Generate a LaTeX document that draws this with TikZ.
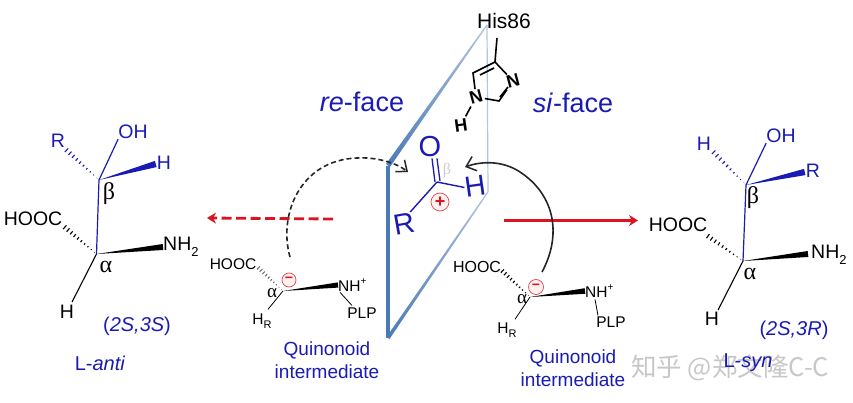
\documentclass[tikz,border=0pt]{standalone}
\usepackage{fontspec}
\setmainfont{Liberation Sans}
\newfontfamily\gkfont{Liberation Serif}
\newfontfamily\cjkwm{Noto Sans CJK SC}
\usetikzlibrary{calc,arrows.meta}
\definecolor{chemblue}{HTML}{1A1AB4}
\definecolor{planeblue}{HTML}{4A7AB6}
\definecolor{planepale}{HTML}{B4C6DC}
\definecolor{arrowred}{HTML}{DC1420}
\definecolor{signred}{HTML}{D84A50}
\newcommand{\sz}[1]{\fontsize{#1}{#1}\selectfont}
\newcommand{\lowtxt}[2]{\raisebox{-.28em}{\sz{#1}#2}}
\newcommand{\hightxt}[2]{\raisebox{.42em}{\sz{#1}#2}}
\newcommand{\wedgebond}[4][black]{\fill[#1] (#2) -- ($(#3)!#4pt!90:(#2)$) -- ($(#3)!#4pt!-90:(#2)$) -- cycle;}
\newcommand{\hashbond}[4][black]{%
  \foreach \t [evaluate=\t as \w using #4*\t] in {0.06,0.16,...,1.0}{%
    \draw[#1,line width=1.1pt] ($(#2)!\t!(#3)!\w pt!90:(#3)$) -- ($(#2)!\t!(#3)!\w pt!-90:(#3)$);}}
\tikzset{
  lab/.style={inner sep=0pt,text=black},
  big/.style={lab,font=\sz{19.5}},
  mid/.style={lab,font=\sz{15.5}},
  blab/.style={lab,text=chemblue,font=\sz{19.5}},
  captext/.style={lab,text=chemblue,font=\sz{19},align=center},
  facetext/.style={lab,text=chemblue,font=\sz{27}},
  cent/.style={lab,text=chemblue,font=\sz{29}},
  gk/.style={lab,font=\gkfont\sz{24}},
  gksmall/.style={lab,font=\gkfont\sz{19}},
  bond/.style={line width=1.1pt,black},
  bbond/.style={line width=1.2pt,chemblue},
  ringbond/.style={line width=1.6pt,black},
  imid/.style={lab,inner sep=1.5pt,font=\bfseries\sz{18}},
  chargesign/.style={circle,draw=signred,line width=.7pt,fill=red!6,inner sep=0pt,text=arrowred,font=\bfseries\sz{14}},
  redarrow/.style={draw=arrowred,line width=2.8pt,-{Stealth[length=9pt,width=11pt]}},
  curved/.style={draw=black!85,line width=1.6pt,-{Straight Barb[length=9pt,width=15pt,line width=1.5pt]}}
}
\begin{document}
\begin{tikzpicture}[x=1pt,y=-1pt]
\useasboundingbox (0,0) rectangle (853,403);
% watermark
\node[lab,anchor=west,text=black!22,font=\cjkwm\sz{25.5}] (wm) at (631,368) {知乎 @郑文隆C-C};
% plane
\coordinate (PA) at (388,166);
\coordinate (PB) at (487,25);
\coordinate (PC) at (488,192);
\coordinate (PD) at (388,338);
\draw[planepale,line width=1.2pt] (PB) -- (PC);
\shade[top color=planepale,bottom color=planeblue] (486.6,24.5) -- (487.6,25.2) -- (390,167) -- (386,164) -- cycle;
\shade[top color=planepale,bottom color=planeblue] (487.4,191.6) -- (488.4,192.4) -- (389.5,339) -- (386.5,337) -- cycle;
\draw[planeblue,line width=3.6pt] (PA) -- (PD);
% left product
\coordinate (La) at (96.5,254);
\coordinate (Lb) at (99,180);
\node[blab] (LOH) at (133,132) {OH};
\node[blab] (LR) at (58,141) {R};
\node[blab] (LH) at (164,163) {H};
\node[gk] (Lbeta) at (109,194) {β};
\node[big] (LHOOC) at (33,219) {HOOC};
\node[big,anchor=west] (LNH) at (163,247) {NH\lowtxt{13}{2}};
\node[gk] (Lalpha) at (106,267) {α};
\node[big] (LHa) at (67,312) {H};
\node[lab,text=chemblue,font=\sz{20}] (Lcfg) at (137,326) {(\textit{2S,3S})};
\node[lab,text=chemblue,font=\sz{20}] (Lname) at (100,363) {L-\textit{anti}};
\draw[bbond] (Lb) -- (La);
\draw[bbond] (Lb) -- (LOH.south west);
\hashbond[chemblue]{Lb}{$(LR.south east)+(0,1)$}{2.6}
\wedgebond[chemblue]{Lb}{$(LH.west)+(-1,1)$}{3.2}
\hashbond{La}{$(LHOOC.south east)+(1,0)$}{2.6}
\wedgebond{La}{LNH.west}{3}
\draw[bond] (La) -- ($(LHa.north)+(5,-3)$);
% left quinonoid
\coordinate (Qa) at (283,291);
\node[mid] (QHOOC) at (233,264) {HOOC};
\node[chargesign,minimum size=14pt] (Qm) at (289,280) {−};
\node[mid,anchor=west] (QNH) at (338,285) {NH\hightxt{10}{+}};
\node[mid] (QPLP) at (362,313) {PLP};
\node[mid] (QHR) at (262,321) {H\lowtxt{11}{R}};
\node[gksmall] (Qalpha) at (272,293) {α};
\node[captext] (Qcap) at (327,360) {Quinonoid\\[3.5pt]intermediate};
\hashbond[black!55]{Qa}{$(QHOOC.east)+(1,3)$}{2.2}
\wedgebond{Qa}{QNH.west}{2.6}
\draw[bond,line width=.8pt] (Qa) -- ($(QHR.north)+(6,-4)$);
\draw[bond,line width=.8pt] ($(QNH.south west)+(2,1)$) -- ($(QPLP.north)+(-10,-2)$);
% right quinonoid
\coordinate (Ra) at (530,297);
\node[mid,font=\sz{16}] (RHOOC) at (477,267) {HOOC};
\node[chargesign,minimum size=15pt] (Rm) at (536,287) {−};
\node[mid,anchor=west] (RNH) at (585,291) {NH\hightxt{10}{+}};
\node[mid] (RPLP) at (611,322) {PLP};
\node[mid] (RHR) at (507,330) {H\lowtxt{11}{R}};
\node[gksmall] (Ralpha) at (522,299) {α};
\node[captext] (Rcap) at (573,368) {Quinonoid\\[3.5pt]intermediate};
\hashbond{Ra}{$(RHOOC.east)+(0,3)$}{2.4}
\wedgebond{Ra}{RNH.west}{2.8}
\draw[bond,line width=.8pt] (Ra) -- ($(RHR.north)+(8,-3)$);
\draw[bond,line width=.8pt] ($(RNH.south west)+(10,2)$) -- ($(RPLP.north)+(-13,-1)$);
% centre: aldehyde
\coordinate (Cc) at (437,182);
\node[cent] (CO) at (430,147) {O};
\node[cent,rotate=8] (CH) at (475,186) {H};
\node[cent,rotate=10] (CR) at (404,224) {R};
\node[gk,font=\gkfont\sz{16},text=black!20] (Cbeta) at (447,171) {β};
\node[chargesign,minimum size=18pt,font=\bfseries\sz{18}] (Cp) at (440,202) {+};
\draw[bbond,line width=1.4pt] (Cc) -- (CH.west);
\draw[bbond,line width=1.4pt] (Cc) -- ($(CR.north)+(8,-2)$);
\draw[bbond,line width=1.3pt] ($(CO.south)+(2,1)$) -- ($(Cc)+(-2,0)$);
\draw[bbond,line width=1.3pt] ($(CO.south)+(7,1)$) -- ($(Cc)+(3,-1)$);
% His86
\node[lab,font=\sz{21}] (His) at (504,21) {His86};
\coordinate (I4) at (495,62);
\coordinate (I5) at (473,73);
\coordinate (I2) at (499,101);
\coordinate (I4b) at (494,68);
\coordinate (I5b) at (480,75);
\coordinate (I2b) at (500,97);
\coordinate (I3b) at (508,87);
\coordinate (Istem) at (497,38);
\node[imid,rotate=15] (IN1) at (476,97) {N};
\node[imid,rotate=15] (IN3) at (513,81) {N};
\node[imid,rotate=8] (IH) at (461,125) {H};
\draw[ringbond] (Istem) -- (I4);
\draw[ringbond] (I4) -- (I5) -- (IN1);
\draw[ringbond] (IN1) -- (I2) -- (IN3) -- (I4);
\draw[ringbond] (I4b) -- (I5b);
\draw[ringbond] (I2b) -- (I3b);
\draw[ringbond] (IN1) -- (IH);
% face labels
\node[facetext] (Fre) at (362,102) {\textit{re}-face};
\node[facetext] (Fsi) at (573,103) {\textit{si}-face};
% right product
\coordinate (Sa) at (743,261);
\coordinate (Sb) at (746,185);
\node[blab] (SOH) at (781,136) {OH};
\node[blab] (SH) at (704,144) {H};
\node[blab] (SR) at (813,171) {R};
\node[gk] (Sbeta) at (753,198) {β};
\node[big] (SHOOC) at (678,225) {HOOC};
\node[big,anchor=west] (SNH) at (811,255) {NH\lowtxt{13}{2}};
\node[gk] (Salpha) at (750,274) {α};
\node[big] (SHa) at (712,319) {H};
\node[lab,text=chemblue,font=\sz{20}] (Scfg) at (794,330) {(\textit{2S,3R})};
\node[lab,text=chemblue,font=\sz{20}] (Sname) at (748,363) {L-\textit{syn}};
\draw[bbond] (Sb) -- (Sa);
\draw[bbond] (Sb) -- (SOH.south west);
\hashbond[chemblue]{Sb}{$(SH.south east)+(1,0)$}{2.6}
\wedgebond[chemblue]{Sb}{$(SR.west)+(-1,1)$}{3.2}
\hashbond{Sa}{$(SHOOC.south east)+(-1,3)$}{2.6}
\wedgebond{Sa}{$(SNH.west)+(-3,-1)$}{3}
\draw[bond] (Sa) -- ($(SHa.north)+(6,-2)$);
% red arrows
\coordinate (A1s) at (333,219);
\coordinate (A1e) at (207,218);
\coordinate (A2s) at (504,220.5);
\coordinate (A2e) at (638,220.5);
\draw[redarrow,dash pattern=on 10pt off 4.5pt] (A1s) -- (A1e);
\draw[redarrow] (A2s) -- (A2e);
% curved arrows
\coordinate (D1) at (290,257);
\coordinate (D2) at (408,172);
\coordinate (E1) at (542,272);
\coordinate (E2) at (465,167);
\draw[curved,dash pattern=on 5pt off 3pt] (D1) .. controls (278,215) and (300,160) .. (357,158) .. controls (375,157) and (395,162) .. (D2);
\draw[curved] (E1) .. controls (562,235) and (555,195) .. (520,172) .. controls (505,162) and (485,160) .. (E2);
\end{tikzpicture}
\end{document}
